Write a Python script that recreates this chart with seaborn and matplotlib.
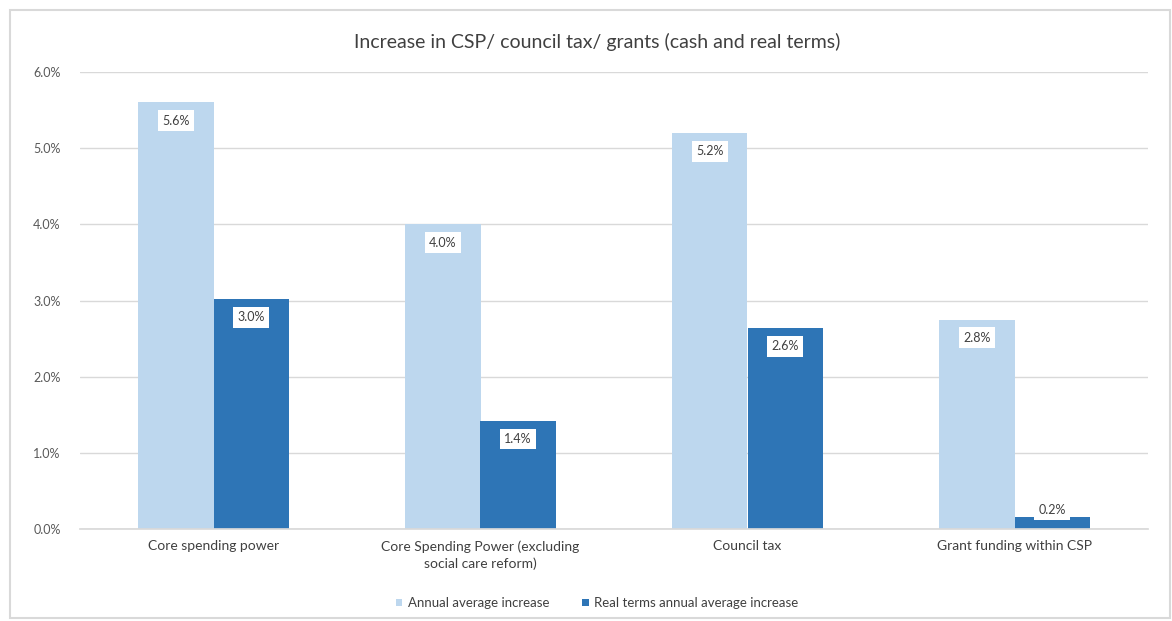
import matplotlib
matplotlib.use("Agg")
import matplotlib.pyplot as plt
import seaborn as sns
import pandas as pd
from matplotlib.patches import Rectangle
from matplotlib.ticker import FuncFormatter

categories = ["Core spending power",
              "Core Spending Power (excluding\nsocial care reform)",
              "Council tax",
              "Grant funding within CSP"]
annual = [5.6, 4.0, 5.2, 2.75]
real_terms = [3.02, 1.42, 2.64, 0.16]
annual_labels = ["5.6%", "4.0%", "5.2%", "2.8%"]
real_labels = ["3.0%", "1.4%", "2.6%", "0.2%"]
series = ["Annual average increase", "Real terms annual average increase"]
yticks = [0, 1, 2, 3, 4, 5, 6]

df = pd.DataFrame({
    "cat": categories * 2,
    "val": annual + real_terms,
    "series": [series[0]] * 4 + [series[1]] * 4,
})

sns.set_theme(style="white")
plt.rcParams['font.family'] = ['Lato', 'DejaVu Sans']

fig = plt.figure(figsize=(11.72, 6.21), dpi=100)
fig.patches.append(Rectangle((10/1172, 3/621), 1160/1172, 608/621, transform=fig.transFigure,
                             fill=False, edgecolor="#d9d9d9", linewidth=1.5))
ax = fig.add_axes([80/1172, 92/621, 1068/1172, 457/621])

colors = {series[0]: "#BDD7EE", series[1]: "#2E75B6"}
sns.barplot(data=df, x="cat", y="val", hue="series", palette=colors, width=0.565,
            gap=0, ax=ax, legend=True, saturation=1, linewidth=0)

ax.set_ylim(0, 6)
ax.set_xlim(-0.5, 3.5)
ax.set_yticks(yticks)
ax.yaxis.set_major_formatter(FuncFormatter(lambda v, p: f"{v:.1f}%"))
ax.grid(axis="y", color="#d9d9d9", linewidth=1)
ax.set_axisbelow(True)
for s in ["top", "right", "left"]:
    ax.spines[s].set_visible(False)
ax.spines["bottom"].set_color("#d9d9d9")
ax.tick_params(axis="y", labelsize=9, colors="#595959", length=0, pad=14)
ax.tick_params(axis="x", labelsize=10, colors="#404040", length=0, pad=8)
for t in ax.get_xticklabels():
    t.set_linespacing(1.5)
ax.set_xlabel("")
ax.set_ylabel("")

bw = 0.565 / 2
for i in range(4):
    for j, (vals, labs) in enumerate([(annual, annual_labels), (real_terms, real_labels)]):
        v = vals[i]
        x = i - bw / 2 + j * bw
        y = v - 0.24 if v > 0.5 else 0.25
        ax.text(x, y, labs[i], ha="center", va="center", fontsize=9, color="#404040",
                bbox=dict(boxstyle="square,pad=0.35", fc="white", ec="none"))

fig.text(597/1172, 1 - 42/621, "Increase in CSP/ council tax/ grants (cash and real terms)",
         ha="center", va="center", fontsize=14, color="#404040")

leg = ax.legend(loc="center", bbox_to_anchor=(597/1172, 1 - 603/621), bbox_transform=fig.transFigure,
                ncol=2, frameon=False, fontsize=9.5, handlelength=0.5, handleheight=0.5,
                columnspacing=2.5, handletextpad=0.4)
for t in leg.get_texts():
    t.set_color("#404040")

fig.savefig("out.png", dpi=100, facecolor="white")
